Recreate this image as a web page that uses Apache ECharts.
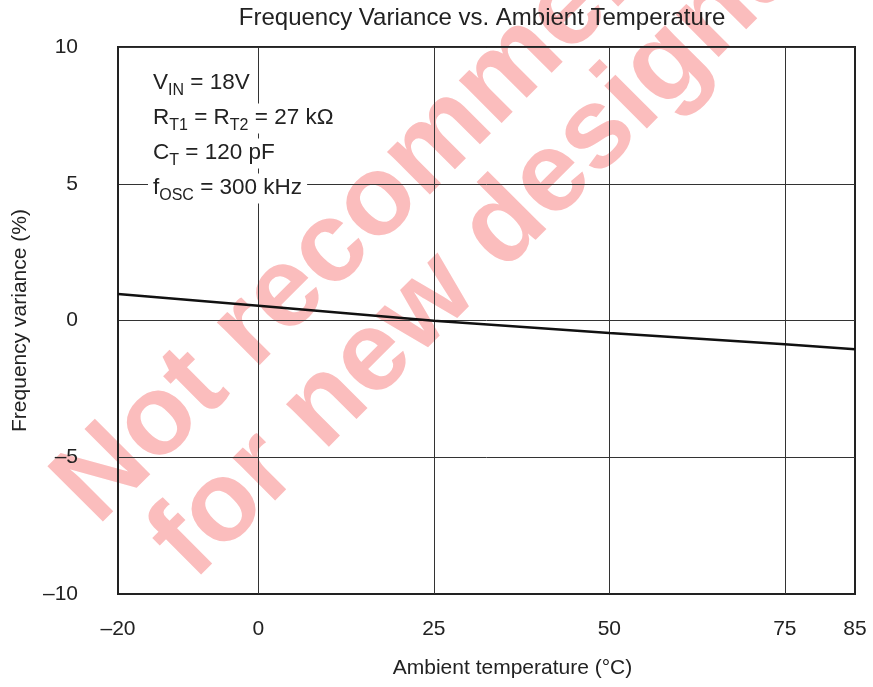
<!DOCTYPE html>
<html>
<head>
<meta charset="utf-8">
<script src="https://cdn.jsdelivr.net/npm/echarts@6/dist/echarts.min.js"></script>
<style>html,body{margin:0;padding:0;background:#fff}#c{width:873px;height:687px}</style>
</head>
<body>
<div id="c"></div>
<script>
// ---- data ----
const temperatures = [-20, 0, 25, 50, 75, 85];
const variance = [0.97, 0.54, -0.01, -0.46, -0.87, -1.05];
const xTickValues = [-20, 0, 25, 50, 75, 85];
const xGridValues = [0, 25, 50, 75];
const yTickValues = [-10, -5, 0, 5, 10];
const titleText = 'Frequency Variance vs. Ambient Temperature';
const xName = 'Ambient temperature (\u00B0C)';
const yName = 'Frequency variance (%)';
const noteLines = [
  '{n|V}{s|IN}{n| = 18V}',
  '{n|R}{s|T1}{n| = R}{s|T2}{n| = 27 k\u03A9}',
  '{n|C}{s|T}{n| = 120 pF}',
  '{n|f}{s|OSC}{n| = 300 kHz}'
];
const watermark = ['Not recommended', 'for new designs'];

const FONT = 'Liberation Sans, Arial, sans-serif';
const fmt = v => String(v).replace('-', '\u2013');

const chart = echarts.init(document.getElementById('c'));
const noteTop = [68.5, 103.5, 138.5, 173.5];
const rich = {
  n: {fontSize: 22.5, lineHeight: 24, verticalAlign: 'top', fontFamily: FONT, fill: '#222'},
  s: {fontSize: 16, lineHeight: 16, verticalAlign: 'top', padding: [11, 0, 0, 0], fontFamily: FONT, fill: '#222'}
};
const graphics = [];
watermark.forEach((t, i) => {
  const pos = [[429, 151], [478, 253]][i];
  graphics.push({
    type: 'text', x: pos[0], y: pos[1], rotation: Math.PI / 4, z: -10, silent: true,
    style: {text: t, fill: '#fbbdbd', font: 'bold 114px ' + FONT,
      textAlign: 'center', textVerticalAlign: 'middle', align: 'center', verticalAlign: 'middle'}
  });
});
noteLines.forEach((t, i) => {
  graphics.push({
    type: 'text', x: 148, y: noteTop[i], z: 100,
    style: {text: t, rich: rich, backgroundColor: '#fff', padding: [3, 5, 3, 5],
      textAlign: 'left', textVerticalAlign: 'top', align: 'left', verticalAlign: 'top'}
  });
});

chart.setOption({
  animation: false,
  backgroundColor: '#fff',
  title: {
    text: titleText, left: 482, top: 6, textAlign: 'center', padding: 0,
    textStyle: {fontFamily: FONT, fontSize: 24, fontWeight: 'normal', color: '#222'}
  },
  grid: {left: 118, right: 18, top: 47, bottom: 93, show: true, borderColor: '#222', borderWidth: 2, backgroundColor: 'transparent'},
  xAxis: {
    type: 'value', min: -20, max: 85,
    name: xName, nameLocation: 'middle', nameGap: 64,
    nameTextStyle: {fontFamily: FONT, fontSize: 21, color: '#222', padding: [0, 0, 0, 52]},
    axisLine: {show: true, onZero: false, lineStyle: {color: '#222', width: 2}},
    axisTick: {show: false},
    splitLine: {show: false},
    axisLabel: {customValues: xTickValues, formatter: fmt, margin: 25, fontFamily: FONT, fontSize: 21, color: '#222'}
  },
  yAxis: {
    type: 'value', min: -10, max: 10, interval: 5,
    name: yName, nameLocation: 'middle', nameGap: 87,
    nameTextStyle: {fontFamily: FONT, fontSize: 21, color: '#222'},
    axisLine: {show: true, onZero: false, lineStyle: {color: '#222', width: 2}},
    axisTick: {show: false},
    splitLine: {show: true, lineStyle: {color: '#333', width: 1}},
    axisLabel: {formatter: fmt, margin: 40, fontFamily: FONT, fontSize: 21, color: '#222'}
  },
  graphic: {elements: graphics},
  series: [
    {
      type: 'line', data: [], z: 1, silent: true,
      markLine: {
        silent: true, symbol: 'none', animation: false,
        label: {show: false},
        lineStyle: {color: '#333', width: 1, type: 'solid'},
        data: xGridValues.map(v => ({xAxis: v}))
      }
    },
    {
      type: 'line', z: 5,
      data: temperatures.map((t, i) => [t, variance[i]]),
      showSymbol: false, smooth: false,
      lineStyle: {color: '#111', width: 2.5}
    }
  ]
});
</script>
</body>
</html>
